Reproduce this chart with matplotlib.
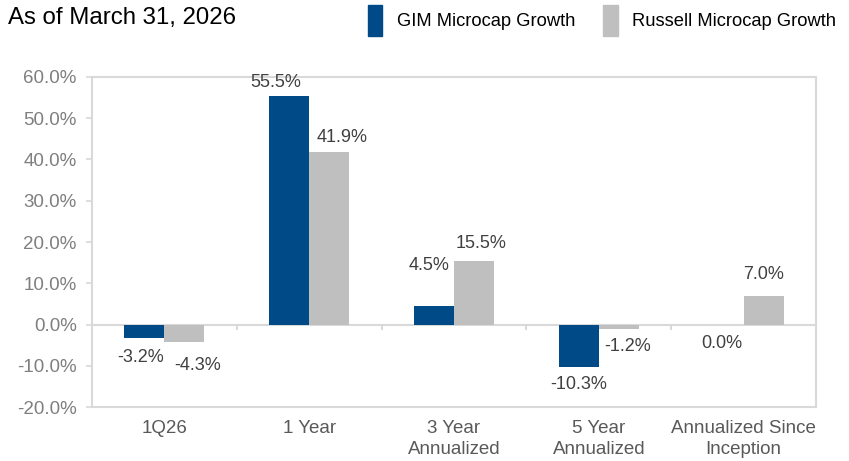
import numpy as np
import matplotlib.pyplot as plt
from matplotlib.patches import Patch

categories = ["1Q26", "1 Year", "3 Year\nAnnualized", "5 Year\nAnnualized", "Annualized Since\nInception"]
gim = [-3.2, 55.5, 4.5, -10.3, 0.0]
russell = [-4.3, 41.9, 15.5, -1.2, 7.0]
series_names = ["GIM Microcap Growth", "Russell Microcap Growth"]
yticks = [-20, -10, 0, 10, 20, 30, 40, 50, 60]

# label offsets in pixels (dx, dy) from the bar end
gim_offsets = [(-4, -20), (-13, 13), (-5, 40), (0, -17), (-2, -19)]
russell_offsets = [(13, -23), (13, 14), (7, 17), (9, -17), (0, 21)]

blue = "#004B87"
grey = "#BFBFBF"
edge = "#D9D9D9"

plt.rcParams['font.family'] = ['Liberation Sans', 'DejaVu Sans']

fig = plt.figure(figsize=(8.49, 4.61), dpi=100)
ax = fig.add_axes([0.1084, 0.1171, 0.8527, 0.7159])

x = np.arange(len(categories))
w = 0.276
b1 = ax.bar(x - w / 2, gim, w, color=blue, zorder=2)
b2 = ax.bar(x + w / 2, russell, w, color=grey, zorder=2)

for bars, vals, offs in [(b1, gim, gim_offsets), (b2, russell, russell_offsets)]:
    for bar, v, (dx, dy) in zip(bars, vals, offs):
        ax.annotate(f"{v:.1f}%", (bar.get_x() + bar.get_width() / 2, v),
                    xytext=(dx, dy), textcoords="offset pixels",
                    ha="center", va="center", fontsize=13, color="#404040")

ax.set_xlim(-0.5, len(categories) - 0.5)
ax.set_ylim(-20, 60)
ax.set_yticks(yticks)
ax.set_yticklabels([f"{t:.1f}%" for t in yticks])
ax.set_xticks(x)
ax.set_xticklabels(categories, linespacing=1.35)
ax.tick_params(axis="y", labelsize=13.5, labelcolor="#7F7F7F", color=edge, length=4, width=1.2, pad=7)
ax.tick_params(axis="x", labelsize=13.5, labelcolor="#595959", length=0, pad=9)
for s in ax.spines.values():
    s.set_color(edge)
    s.set_linewidth(1.5)

# zero line with category separator ticks
ax.axhline(0, color=edge, lw=1.5, zorder=1)
ax.vlines(x[:-1] + 0.5, -1.4, 0, color=edge, lw=1.5, zorder=1)

fig.text(0.009, 0.96, "As of March 31, 2026", fontsize=17.3, color="#000000", va="center")

handles = [Patch(color=blue), Patch(color=grey)]
fig.legend(handles, series_names, loc="center left", bbox_to_anchor=(0.4136, 0.955),
           ncol=2, frameon=False, fontsize=13.2, handlelength=0.8, handleheight=2.2,
           handletextpad=0.8, columnspacing=1.5, labelcolor="#000000")

fig.savefig("out.png", dpi=100)
